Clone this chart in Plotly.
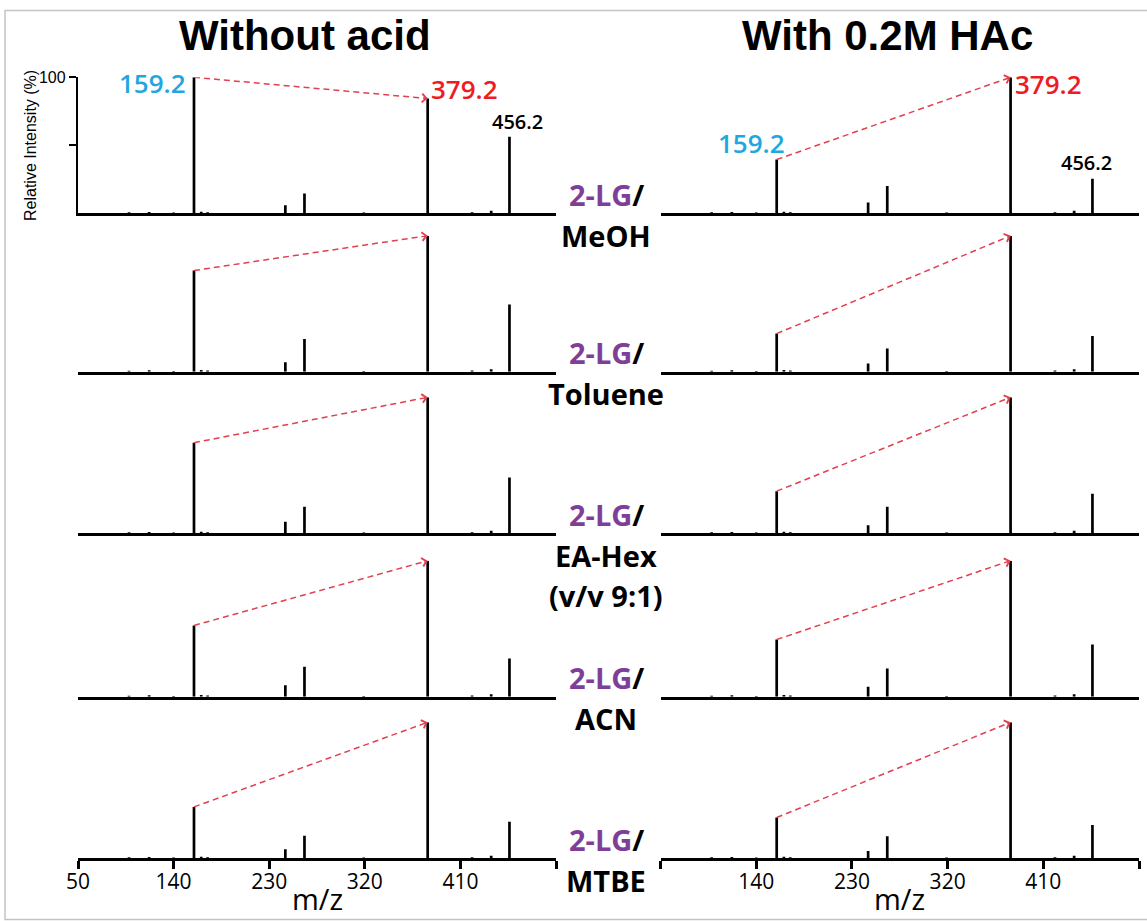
import plotly.graph_objects as go

# ---------------- data ----------------
mz_major = [159.2, 245.2, 263.2, 379.2, 456.2]
solvents = ["MeOH", "Toluene", "EA-Hex<br>(v/v 9:1)", "ACN", "MTBE"]
conditions = ["Without acid", "With 0.2M HAc"]

# relative intensities (%) per solvent row, without acid
noacid_159 = [100, 74.4, 66.6, 52.4, 37.8]
noacid_245 = [6.0, 6.9, 8.5, 8.5, 6.6]
noacid_263 = [14.6, 24.0, 19.5, 22.0, 16.5]
noacid_379 = [84.4, 100, 100, 100, 100]
noacid_456 = [56.3, 49.5, 41.0, 28.0, 26.8]

# with 0.2 M HAc
acid_159 = [39.5, 28.0, 31.0, 42.0, 30.0]
acid_245 = [8.0, 6.0, 6.0, 7.3, 5.4]
acid_263 = [20.0, 17.0, 19.5, 20.7, 16.3]
acid_379 = [100, 100, 100, 100, 100]
acid_456 = [25.4, 26.3, 29.0, 38.3, 24.4]

# small background peaks
mz_minor = [98, 117, 140, 166, 172, 319, 421, 439]
int_minor = [0.7, 1.0, 0.6, 1.2, 0.8, 0.6, 0.8, 1.8]

tick_vals = [50, 140, 230, 320, 410, 500]
tick_text_left = ["50", "140", "230", "320", "410", ""]
tick_text_right = ["", "140", "230", "320", "410", "500"]

# ---------------- layout helpers ----------------
W, H = 1147, 921
def px(p):
    return p / W
def py(p):
    return 1 - p / H

X_LEFT = (78, 556)
X_RIGHT = (660.6, 1139)
BASE = [213.3, 371.7, 533.3, 696.7, 858.3]
PH = 136  # pixel height of 100 %

BLUE = "#1fa8e0"
RED = "#ed1c24"
DASH_RED = "#e2404e"
PURPLE = "#7f3f98"
FONT = "Open Sans, Noto Sans, sans-serif"
TITLE_FONT = "Liberation Sans, Arial, sans-serif"

series = [
    [noacid_159, noacid_245, noacid_263, noacid_379, noacid_456],
    [acid_159, acid_245, acid_263, acid_379, acid_456],
]

fig = go.Figure()
annotations = []
layout_axes = {}

for r in range(5):
    for c in range(2):
        k = r * 2 + c + 1
        xs = "" if k == 1 else str(k)
        xname, yname = "x" + xs, "y" + xs
        ints = [s[r] for s in series[c]]
        xx, yy = [], []
        for m, h in zip(mz_minor, int_minor):
            xx += [m, m, None]
            yy += [0, h, None]
        for m, h in zip(mz_major, ints):
            xx += [m, m, None]
            yy += [0, h, None]
        fig.add_trace(go.Scatter(x=xx, y=yy, mode="lines", xaxis=xname, yaxis=yname,
                                 line=dict(color="black", width=2.7), showlegend=False,
                                 hoverinfo="skip"))
        # dashed arrow line 159 -> 379
        h159, h379 = ints[0], ints[3]
        fig.add_trace(go.Scatter(x=[mz_major[0], mz_major[3]], y=[h159, h379], mode="lines",
                                 xaxis=xname, yaxis=yname,
                                 line=dict(color=DASH_RED, width=1.5, dash="6px,4px"),
                                 showlegend=False, hoverinfo="skip"))
        xdom = X_LEFT if c == 0 else X_RIGHT
        sx = (xdom[1] - xdom[0]) / 450.0
        sy = PH / 100.0
        dxp = (mz_major[3] - mz_major[0]) * sx
        dyp = (h379 - h159) * sy
        ln = (dxp ** 2 + dyp ** 2) ** 0.5
        L = 5
        annotations.append(dict(x=mz_major[3], y=h379, xref=xname, yref=yname,
                                ax=-dxp / ln * L, ay=dyp / ln * L, axref="pixel", ayref="pixel",
                                showarrow=True, arrowhead=4, arrowsize=1.3, arrowwidth=1.3,
                                arrowcolor=DASH_RED, text="", standoff=0))
        bottom = r == 4
        xa = dict(domain=[px(xdom[0]), px(xdom[1])], range=[50, 500], anchor=yname,
                  showline=True, linecolor="black", linewidth=2.7, showgrid=False,
                  zeroline=False, fixedrange=True, automargin=False)
        if bottom:
            xa.update(tickmode="array", tickvals=tick_vals,
                      ticktext=tick_text_left if c == 0 else tick_text_right,
                      ticks="outside", ticklen=8, tickwidth=2.5, tickcolor="black",
                      ticklabelstandoff=-5,
                      tickfont=dict(family=FONT, size=21, color="black", weight=500))
        else:
            xa.update(showticklabels=False, ticks="")
        ya = dict(domain=[py(BASE[r]), py(BASE[r] - PH)], range=[0, 100], anchor=xname,
                  showgrid=False, zeroline=False, fixedrange=True, automargin=False)
        if k == 1:
            ya.update(showline=True, linecolor="black", linewidth=2.4, ticks="outside",
                      tickmode="array", tickvals=[50, 100], ticktext=["", "100"],
                      ticklen=7, tickwidth=2, tickcolor="black", ticklabelstandoff=0,
                      tickfont=dict(family="Liberation Sans Narrow, Liberation Sans, sans-serif",
                                    size=16, color="black"))
        else:
            ya.update(visible=False)
        layout_axes["xaxis" + xs] = xa
        layout_axes["yaxis" + xs] = ya

        if r == 0:
            if c == 0:
                annotations += [
                    dict(x=mz_major[0], y=95.5, xref=xname, yref=yname, text="159.2",
                         xanchor="right", yanchor="middle", xshift=-6, showarrow=False,
                         font=dict(family=FONT, size=26, color=BLUE, weight=600)),
                    dict(x=mz_major[3], y=91.5, xref=xname, yref=yname, text="379.2",
                         xanchor="left", yanchor="middle", xshift=1, showarrow=False,
                         font=dict(family=FONT, size=26, color=RED, weight=600)),
                    dict(x=mz_major[4], y=ints[4], xref=xname, yref=yname, text="456.2",
                         xanchor="center", yanchor="bottom", xshift=8, yshift=0, showarrow=False,
                         font=dict(family=FONT, size=20, color="black", weight=600)),
                ]
            else:
                annotations += [
                    dict(x=mz_major[0], y=ints[0], xref=xname, yref=yname, text="159.2",
                         xanchor="right", yanchor="bottom", xshift=10, yshift=-3, showarrow=False,
                         font=dict(family=FONT, size=26, color=BLUE, weight=600)),
                    dict(x=mz_major[3], y=95, xref=xname, yref=yname, text="379.2",
                         xanchor="left", yanchor="middle", xshift=2, showarrow=False,
                         font=dict(family=FONT, size=26, color=RED, weight=600)),
                    dict(x=mz_major[4], y=ints[4], xref=xname, yref=yname, text="456.2",
                         xanchor="center", yanchor="bottom", xshift=-6, yshift=1, showarrow=False,
                         font=dict(family=FONT, size=20, color="black", weight=600)),
                ]

# column titles
for c, t in enumerate(conditions):
    xdom = X_LEFT if c == 0 else X_RIGHT
    annotations.append(dict(x=px((xdom[0] + xdom[1]) / 2 - 12), y=py(35), xref="paper", yref="paper",
                            text="<b>" + t + "</b>", showarrow=False, xanchor="center",
                            yanchor="middle",
                            font=dict(family=TITLE_FONT, size=42, color="black")))
    annotations.append(dict(x=px((xdom[0] + xdom[1]) / 2), y=py(898), xref="paper", yref="paper",
                            text="m/z", showarrow=False, xanchor="center", yanchor="middle",
                            font=dict(family=FONT, size=29, color="black", weight=500)))

# middle solvent labels
CX = 606
for r, s in enumerate(solvents):
    annotations.append(dict(x=px(CX), y=py(BASE[r] - 19), xref="paper", yref="paper",
                            text="<b><span style='color:%s'>2-LG</span>/</b>" % PURPLE,
                            showarrow=False, xanchor="center", yanchor="middle",
                            font=dict(family=FONT, size=29, color="black", weight=800)))
    for j, part in enumerate(s.split("<br>")):
        annotations.append(dict(x=px(CX), y=py(BASE[r] + 22 + 40 * j), xref="paper", yref="paper",
                                text="<b>" + part + "</b>", showarrow=False, xanchor="center",
                                yanchor="middle",
                                font=dict(family=FONT, size=29, color="black", weight=800)))

# y-axis title
annotations.append(dict(x=px(31), y=py(146), xref="paper", yref="paper",
                        text="Relative Intensity (%)", textangle=-90, showarrow=False,
                        xanchor="center", yanchor="middle",
                        font=dict(family="Liberation Sans Narrow, Liberation Sans, sans-serif",
                                  size=16, color="black")))

fig.update_layout(width=W, height=H, margin=dict(l=0, r=0, t=0, b=0, autoexpand=False),
                  paper_bgcolor="white", plot_bgcolor="white",
                  annotations=annotations, showlegend=False,
                  shapes=[dict(type="rect", xref="paper", yref="paper",
                               x0=px(5), x1=1.02, y0=py(919.5), y1=py(10.5),
                               line=dict(color="#c4c4c4", width=1.5))],
                  **layout_axes)

fig.write_html("out.html")
